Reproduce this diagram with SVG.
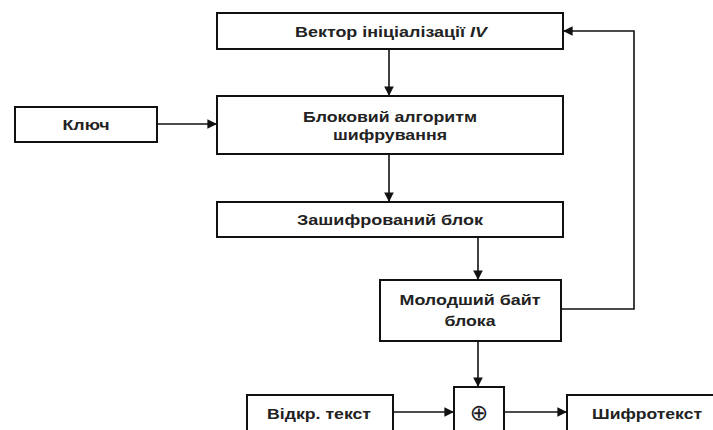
<svg xmlns="http://www.w3.org/2000/svg" width="713" height="430" viewBox="0 0 713 430">
<style>
.b{fill:#fff;stroke:#111;stroke-width:2}
.t{font-family:"Liberation Sans",Arial,sans-serif;font-weight:bold;font-size:15px;fill:#222;text-anchor:middle}
.c{fill:none;stroke:#111;stroke-width:1.6}
</style>
<defs>
<marker id="a" viewBox="0 0 10 10" refX="10" refY="5" markerWidth="6" markerHeight="6" orient="auto" markerUnits="strokeWidth">
<path d="M0,0 L10,5 L0,10 z" fill="#111"/>
</marker>
</defs>
<rect width="713" height="430" fill="#fff"/>
<g id="iv"><rect class="b" x="217" y="13" width="346" height="36"/><text class="t" x="391" y="37" textLength="192" lengthAdjust="spacingAndGlyphs">Вектор ініціалізації <tspan font-style="italic">IV</tspan></text></g>
<g id="key"><rect class="b" x="15" y="107" width="142" height="35"/><text class="t" x="86" y="130" textLength="47" lengthAdjust="spacingAndGlyphs">Ключ</text></g>
<g id="alg"><rect class="b" x="217" y="96" width="346" height="58"/><text class="t" x="390" y="122" textLength="174" lengthAdjust="spacingAndGlyphs">Блоковий алгоритм</text><text class="t" x="390" y="140" textLength="114" lengthAdjust="spacingAndGlyphs">шифрування</text></g>
<g id="enc"><rect class="b" x="217" y="202" width="346" height="35"/><text class="t" x="390" y="225" textLength="186" lengthAdjust="spacingAndGlyphs">Зашифрований блок</text></g>
<g id="low"><rect class="b" x="380" y="280" width="181" height="61"/><text class="t" x="470" y="305" textLength="141" lengthAdjust="spacingAndGlyphs">Молодший байт</text><text class="t" x="470" y="326" textLength="51" lengthAdjust="spacingAndGlyphs">блока</text></g>
<g id="xor"><rect class="b" x="454" y="387" width="50" height="50"/><text class="t" x="479" y="420" style="font-weight:normal;font-family:'DejaVu Sans',sans-serif;font-size:22px">⊕</text></g>
<g id="pt"><rect class="b" x="247" y="395" width="146" height="40"/><text class="t" x="319" y="419" textLength="104" lengthAdjust="spacingAndGlyphs">Відкр. текст</text></g>
<g id="ct"><rect class="b" x="567" y="395" width="150" height="40"/><text class="t" x="647" y="419" textLength="110" lengthAdjust="spacingAndGlyphs">Шифротекст</text></g>
<g id="connectors">
<path class="c" d="M389,49 V96" marker-end="url(#a)"/>
<path class="c" d="M157,124 H217" marker-end="url(#a)"/>
<path class="c" d="M389,154 V202" marker-end="url(#a)"/>
<path class="c" d="M478,237 V280" marker-end="url(#a)"/>
<path class="c" d="M561,309 H634 V31 H563" marker-end="url(#a)"/>
<path class="c" d="M478,341 V387" marker-end="url(#a)"/>
<path class="c" d="M393,412 H454" marker-end="url(#a)"/>
<path class="c" d="M504,412 H567" marker-end="url(#a)"/>
</g>
</svg>
